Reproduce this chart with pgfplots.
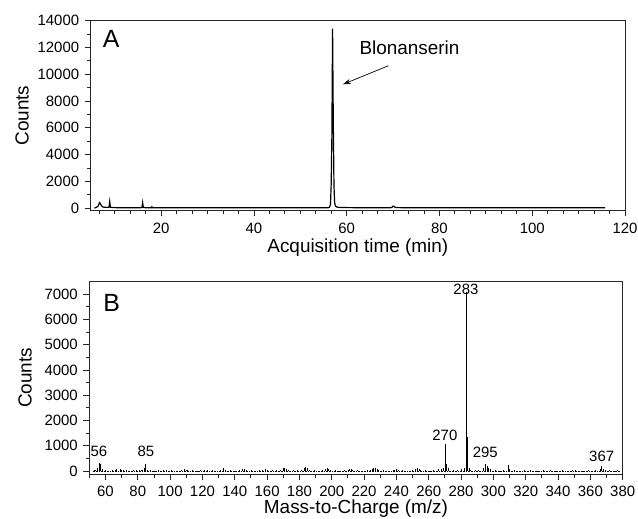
\documentclass[border=0pt]{standalone}
\usepackage{pgfplots}
\pgfplotsset{compat=1.18}
\usepackage{fontspec}
\setmainfont{Liberation Sans}
\usetikzlibrary{arrows.meta}

\newcommand{\tickfont}{\fontsize{15}{17}\selectfont}
\newcommand{\labfont}{\fontsize{19}{21}\selectfont}

\pgfplotsset{
  spec/.style={
    scale only axis,
    anchor=south west,
    tick align=outside,
    xtick pos=bottom, ytick pos=left,
    major tick length=6bp, minor tick length=3.5bp,
    axis line style={line width=0.9bp, black!85},
    every tick/.style={line width=0.9bp, black!85},
    tick label style={font=\tickfont},
    /pgf/number format/assume math mode=true,
    /pgf/number format/1000 sep={},
    scaled y ticks=false, scaled x ticks=false,
    xticklabel style={yshift=-3bp},
    yticklabel style={xshift=-2bp},
    label style={font=\labfont},
  },
}

\begin{document}
\begin{tikzpicture}
\path[use as bounding box] (0,0) rectangle (638bp,519bp);

% ---- A: chromatogram
\begin{axis}[spec,
  at={(90.7bp,308.5bp)}, width=534.3bp, height=189.8bp,
  xmin=4.8, xmax=120, ymin=-170, ymax=14000,
  xtick={20,40,...,120},
  minor xtick={6.6667,10,...,116.7},
  ytick={0,2000,...,14000}, minor ytick={1000,3000,...,13000},
  xlabel={Acquisition time (min)},
  ylabel={Counts},
  xlabel style={at={(rel axis cs:0.5,0)}, anchor=center, yshift=-37bp},
  ylabel style={at={(rel axis cs:-0.1286,0.5)}, anchor=center},
]
\addplot[black, line width=1.2bp] coordinates {
(5.6,10) (6.0,60) (6.4,150) (6.7,420) (6.9,330) (7.1,200) (7.4,90) (7.8,70)
(8.4,60) (8.75,80) (8.9,500) (9.05,70) (9.5,50) (10.5,40) (11.5,35) (12.5,35)
(13.5,30) (14.5,30) (15.5,35) (15.85,60) (16.0,420) (16.15,60) (16.6,40) (17.5,35)
(17.9,40) (18.0,110) (18.1,40) (19,35) (22,30) (25,32) (30,30) (35,30) (40,30)
(45,30) (50,30) (54,35) (56.0,40) (56.3,80) (56.5,300) (56.65,1800) (56.8,5300)
(56.95,13400) (57.1,6600) (57.25,1700) (57.4,400) (57.6,150) (58,70) (59,50)
(62,40) (66,35) (69.5,40) (69.8,80) (70.0,160) (70.2,120) (70.5,50) (72,40)
(80,35) (90,35) (100,35) (109.8,35) (110.2,35) (115.7,30)
};
\node[anchor=west, font=\fontsize{25}{27}\selectfont] at (rel axis cs:0.016,0.902) {A};
\node[anchor=west, font=\labfont] at (axis cs:62.0,11960) {Blonanserin};
\draw[-{Stealth[length=8bp,width=5bp]}, line width=0.7bp] (axis cs:69,10640) -- (axis cs:59.2,9250);
\end{axis}

% ---- B: mass spectrum
\begin{axis}[spec,
  at={(89.3bp,45bp)}, width=533.4bp, height=192.3bp,
  xmin=50, xmax=380, ymin=-120, ymax=7500,
  xtick={60,80,...,380},
  minor xtick={50,70,...,370},
  ytick={0,1000,...,7000}, minor ytick={500,1500,...,6500},
  xlabel={Mass-to-Charge (m/z)},
  ylabel={Counts},
  xlabel style={at={(rel axis cs:0.5,0)}, anchor=center, yshift=-35bp},
  ylabel style={at={(rel axis cs:-0.1205,0.5)}, anchor=center},
]
\addplot[black, densely dotted, line width=0.6bp] coordinates {(52,0) (378,0)};
\addplot[ycomb, black, line width=0.8bp] coordinates {
(53,20) (54,30) (55,120) (56,300) (57,280) (58,60) (60,20) (62,15) (64,25)
(66,30) (67,60) (69,80) (70,30) (71,50) (73,20) (75,15) (77,25) (79,40)
(81,20) (82,50) (83,30) (84,100) (85,260) (86,40) (88,20) (90,15) (93,20)
(96,30) (98,40) (101,20) (104,15) (107,25) (109,80) (110,50) (111,30) (114,20)
(117,15) (119,25) (121,40) (123,30) (126,20) (129,15) (131,25) (133,100) (134,40)
(137,20) (140,15) (143,25) (145,60) (146,70) (147,50) (150,20) (153,15) (155,25)
(157,50) (159,80) (160,40) (163,20) (166,25) (168,30) (170,100) (171,120) (172,80)
(173,40) (176,20) (179,25) (181,30) (183,120) (184,150) (185,100) (186,40) (189,20)
(192,15) (194,25) (196,80) (197,100) (198,90) (199,40) (202,20) (205,15) (208,25)
(210,50) (211,60) (212,60) (213,40) (216,20) (219,15) (222,25) (224,40) (225,80)
(226,100) (227,130) (228,90) (229,30) (232,20) (235,15) (238,50) (239,30) (240,90)
(241,50) (244,20) (247,15) (250,25) (252,80) (253,120) (254,90) (255,50) (258,20)
(261,15) (263,25) (266,60) (268,60) (269,100) (270,1070) (271,260) (272,100) (275,20)
(278,25) (280,60) (282,120) (283,7100) (284,1360) (285,120) (286,40) (289,20)
(291,25) (294,120) (295,270) (296,200) (297,120) (298,60) (301,20) (304,15)
(306,25) (309,240) (310,60) (313,20) (316,15) (319,20) (323,30) (327,15) (331,20)
(335,30) (339,15) (343,20) (346,15) (349,40) (351,30) (355,15) (359,20) (363,25)
(366,60) (367,200) (368,80) (369,40) (372,20) (375,15) (377,20)
};
\node[anchor=west, font=\fontsize{25}{27}\selectfont] at (rel axis cs:0.02,0.89) {B};
\begin{scope}[every node/.style={font=\tickfont, inner sep=1bp}]
\node at (axis cs:56,770) {56};
\node at (axis cs:85,770) {85};
\node at (axis cs:270,1430) {270};
\node at (axis cs:283,7210) {283};
\node at (axis cs:295,726) {295};
\node at (axis cs:367,595) {367};
\end{scope}
\end{axis}
\end{tikzpicture}
\end{document}
